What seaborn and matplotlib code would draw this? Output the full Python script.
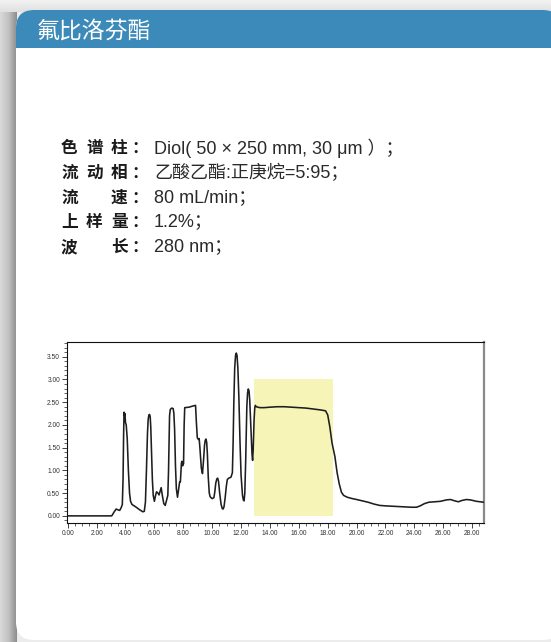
import numpy as np
import matplotlib
matplotlib.use("Agg")
import matplotlib.pyplot as plt
from matplotlib.patches import FancyBboxPatch, Rectangle
import seaborn as sns
import pandas as pd

# ---------------- data ----------------
title = "氟比洛芬酯"
param_labels = ["色谱柱", "流动相", "流速", "上样量", "波长"]
param_values = ["Diol( 50 × 250 mm, 30 μm ）；", "乙酸乙酯:正庚烷=5:95；",
                "80 mL/min；", "1.2%；", "280 nm；"]

time_min = [0.0, 3.05, 3.2, 3.35, 3.5, 3.6, 3.7, 3.78, 3.83, 3.87, 3.9, 3.93, 3.96, 4.0,
            4.05, 4.12, 4.2, 4.28, 4.35, 4.45, 4.7, 5.0, 5.2, 5.3, 5.38, 5.45, 5.52, 5.57,
            5.62, 5.67, 5.71, 5.75, 5.8, 5.86, 5.92, 6.0, 6.08, 6.15, 6.25, 6.32, 6.4, 6.47,
            6.55, 6.65, 6.75, 6.85, 6.93, 6.98, 7.05, 7.1, 7.2, 7.3, 7.35, 7.4, 7.46, 7.52,
            7.6, 7.68, 7.75, 7.8, 7.87, 7.9, 7.95, 8.02, 8.06, 8.1, 8.4, 8.6, 8.85, 8.9,
            8.97, 9.05, 9.1, 9.15, 9.25, 9.33, 9.42, 9.47, 9.52, 9.57, 9.62, 9.67, 9.73,
            9.8, 9.86, 10.0, 10.12, 10.18, 10.25, 10.32, 10.38, 10.44, 10.52, 10.62, 10.7,
            10.76, 10.82, 10.9, 10.98, 11.05, 11.15, 11.3, 11.4, 11.45, 11.5, 11.56, 11.62,
            11.67, 11.72, 11.78, 11.85, 11.93, 12.0, 12.1, 12.16, 12.21, 12.26, 12.32,
            12.4, 12.45, 12.5, 12.55, 12.6, 12.66, 12.72, 12.76, 12.8, 12.84, 12.9, 12.95,
            12.99, 13.05, 13.3, 13.6, 14.0, 14.5, 15.0, 15.5, 16.0, 16.5, 17.0, 17.5,
            17.85, 18.0, 18.15, 18.3, 18.5, 18.65, 18.8, 18.95, 19.1, 19.35, 19.7, 20.0,
            20.4, 20.8, 21.2, 21.6, 22.0, 22.6, 23.2, 23.8, 24.15, 24.4, 24.7, 25.0,
            25.4, 25.8, 26.2, 26.5, 26.8, 27.05, 27.3, 27.6, 27.9, 28.3, 28.8]
absorbance = [0.0, 0.0, 0.08, 0.15, 0.13, 0.12, 0.18, 0.25, 0.8, 1.8, 2.28, 2.2, 2.25, 2.05,
              2.0, 1.7, 1.0, 0.5, 0.32, 0.25, 0.2, 0.13, 0.09, 0.1, 0.3, 1.0, 1.8, 2.12,
              2.22, 2.23, 2.18, 1.95, 1.4, 0.8, 0.45, 0.32, 0.45, 0.53, 0.5, 0.46, 0.55, 0.62,
              0.45, 0.27, 0.23, 0.35, 0.45, 1.0, 2.2, 2.34, 2.37, 2.36, 2.25, 1.9, 1.1, 0.6,
              0.41, 0.6, 0.75, 0.75, 1.15, 1.2, 1.1, 1.15, 2.0, 2.38, 2.39, 2.41, 2.43, 2.1,
              1.72, 1.68, 1.7, 1.5, 1.05, 0.93, 1.3, 1.55, 1.66, 1.69, 1.62, 1.35, 0.85,
              0.5, 0.42, 0.38, 0.4, 0.52, 0.72, 0.81, 0.83, 0.76, 0.5, 0.25, 0.16,
              0.15, 0.2, 0.4, 0.65, 0.8, 0.83, 0.85, 0.95, 1.6, 2.5, 3.25, 3.53,
              3.58, 3.53, 3.25, 2.6, 1.6, 0.9, 0.45, 0.35, 0.33, 0.5, 1.2,
              2.4, 2.7, 2.79, 2.75, 2.55, 2.1, 1.6, 1.35, 1.22, 1.45, 2.1, 2.38,
              2.43, 2.4, 2.38, 2.38, 2.39, 2.4, 2.4, 2.39, 2.38, 2.37, 2.35, 2.33,
              2.31, 2.22, 1.95, 1.6, 1.3, 0.95, 0.7, 0.52, 0.45, 0.41, 0.38, 0.36,
              0.33, 0.3, 0.26, 0.23, 0.22, 0.21, 0.2, 0.19, 0.19, 0.22, 0.27, 0.3,
              0.31, 0.32, 0.35, 0.36, 0.33, 0.31, 0.34, 0.36, 0.35, 0.32, 0.3]

fraction_start, fraction_end, fraction_top = 12.9, 18.37, 3.0

x_ticks = [0, 2, 4, 6, 8, 10, 12, 14, 16, 18, 20, 22, 24, 26, 28]
y_ticks = [0.0, 0.5, 1.0, 1.5, 2.0, 2.5, 3.0, 3.5]

# ---------------- style ----------------
sns.set_style("white")
plt.rcParams["font.family"] = ["Liberation Sans", "Noto Sans CJK SC", "DejaVu Sans"]

W, H = 551, 642
fig = plt.figure(figsize=(W / 100, H / 100), dpi=100)
fig.patch.set_facecolor("#ececec")

# background / card
bg = fig.add_axes([0, 0, 1, 1])
bg.axis("off")
grad = np.linspace(0, 1, 64)[None, :]
bg.imshow(grad, extent=[0, 17, H, 0], cmap=matplotlib.colors.LinearSegmentedColormap.from_list(
    "sh", ["#dadada", "#c2c2c2", "#8c8c8c"]), aspect="auto", zorder=0)
topgrad = np.linspace(0, 1, 32)[:, None]
bg.imshow(topgrad, extent=[0, W, 12, 0], cmap=matplotlib.colors.LinearSegmentedColormap.from_list(
    "sh2", ["#f3f3f3", "#e0e0e0"]), aspect="auto", zorder=0)
bg.set_xlim(0, W)
bg.set_ylim(H, 0)

card = FancyBboxPatch((16, 10), 545, 630, boxstyle="round,pad=0,rounding_size=18",
                      facecolor="white", edgecolor="none", zorder=1)
bg.add_patch(card)
header = FancyBboxPatch((16, 10), 545, 60, boxstyle="round,pad=0,rounding_size=18",
                        facecolor="#3b8ab9", edgecolor="none", zorder=2)
bg.add_patch(header)
bg.add_patch(Rectangle((16, 47.5), 545, 40, facecolor="white", edgecolor="none", zorder=3))

bg.text(37, 31, title, color="white", fontsize=16.5, va="center", ha="left",
        family=["Noto Sans CJK SC"], zorder=4)

# parameter block
line_y = [148, 173, 198, 222, 247]
char_x = [61, 86, 111]
for lab, val, yy in zip(param_labels, param_values, line_y):
    chars = list(lab)
    xs = [char_x[0], char_x[2]] if len(chars) == 2 else char_x
    for c, xx in zip(chars, xs):
        bg.text(xx, yy, c, fontsize=12, fontweight="bold", color="#1a1a1a",
                family=["Noto Sans CJK SC"], va="center", ha="left", zorder=4)
    bg.text(131, yy, "：", fontsize=12, fontweight="bold", color="#1a1a1a",
            family=["Noto Sans CJK SC"], va="center", ha="left", zorder=4)
    bg.text(154, yy, val, fontsize=13, color="#2a2a2a",
            family=["Liberation Sans", "Noto Sans CJK SC"], va="center", ha="left", zorder=4)

# ---------------- chromatogram ----------------
ax = fig.add_axes([67 / W, 1 - 522.7 / H, (484 - 67) / W, (522.7 - 341.7) / H])
ax.set_facecolor("none")
df = pd.DataFrame({"time": time_min, "abs": absorbance})

ax.add_patch(Rectangle((fraction_start, 0), fraction_end - fraction_start, fraction_top,
                       facecolor="#f6f4b6", edgecolor="none", zorder=1))
sns.lineplot(data=df, x="time", y="abs", ax=ax, sort=False, estimator=None,
             color="#1e1e1e", linewidth=1.15, zorder=3)

ax.set_xlim(-0.05, 28.82)
ax.set_ylim(-0.15, 3.83)
ax.set_xlabel("")
ax.set_ylabel("")
ax.set_xticks(x_ticks)
ax.set_xticklabels([f"{v:.2f}" for v in x_ticks])
ax.set_yticks(y_ticks)
ax.set_yticklabels([f"{v:.2f}" for v in y_ticks])
ax.set_xticks(np.arange(0, 28.6, 0.5), minor=True)
ax.set_yticks(np.arange(-0.1, 3.81, 0.1), minor=True)
ax.tick_params(axis="both", which="major", direction="out", length=3.5, width=0.6,
               labelsize=4.8, labelcolor="#333333", color="#222222", pad=1.5)
ax.tick_params(axis="both", which="minor", direction="out", length=2, width=0.5, color="#222222")
ax.tick_params(left=True, bottom=True, which="both")
for s in ["top", "left", "bottom"]:
    ax.spines[s].set_color("#111111")
    ax.spines[s].set_linewidth(0.8)
ax.spines["right"].set_color("#8a8a8a")
ax.spines["right"].set_linewidth(1.6)

fig.savefig("out.png", dpi=100, facecolor=fig.get_facecolor())
